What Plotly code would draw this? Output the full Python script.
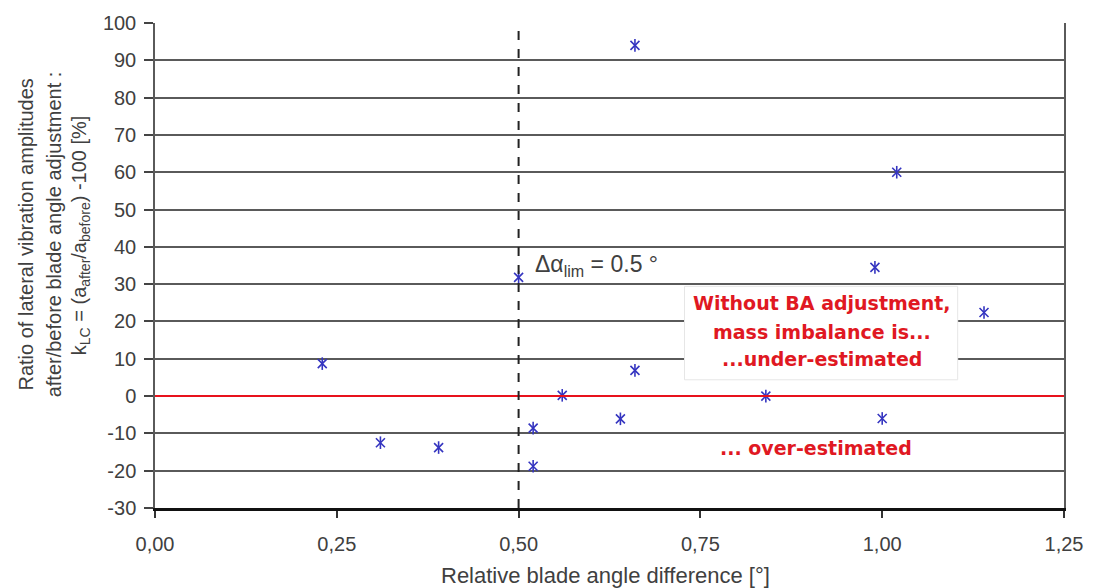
import plotly.graph_objects as go

# Data
blade_angle_diff = [0.23, 0.31, 0.39, 0.50, 0.52, 0.52, 0.56, 0.64, 0.66, 0.66, 0.84, 0.99, 1.00, 1.02, 1.14]
k_lc = [8.7, -12.5, -13.8, 31.8, -8.6, -18.8, 0.2, -6.1, 6.9, 94.0, 0.0, 34.5, -6.0, 60.0, 22.4]

x_ticks = [0, 0.25, 0.5, 0.75, 1.0, 1.25]
x_tick_text = ["0,00", "0,25", "0,50", "0,75", "1,00", "1,25"]
y_ticks = list(range(-30, 101, 10))
y_tick_text = [str(v) for v in y_ticks]
limit_angle = 0.5

W, H = 1095, 588
L, R, T, B = 155, 25, 20, 80
PW, PH = W - L - R, H - T - B

def px(xp):
    return (xp - L) / PW

def py(yp):
    return (H - B - yp) / PH

marker_color = "#3535c0"
text_red = "#e01822"
grey_text = "#404040"
base_font = "Liberation Sans, Arial, sans-serif"
tick_font = dict(family=base_font, size=20, color=grey_text)

fig = go.Figure()
for sym in ["x-thin-open", "line-ns-open"]:
    fig.add_trace(go.Scatter(
        x=blade_angle_diff, y=k_lc, mode="markers",
        marker=dict(symbol=sym, size=9, color=marker_color,
                    line=dict(color=marker_color, width=1.6)),
        showlegend=False, hoverinfo="x+y",
    ))

shapes = [
    # white label box
    dict(type="rect", xref="paper", yref="paper",
         x0=px(688), x1=px(963), y0=py(379), y1=py(285),
         fillcolor="white", line=dict(color="#e6e6e6", width=1), layer="above"),
    # zero line
    dict(type="line", xref="paper", yref="y", x0=0, x1=1, y0=0, y1=0,
         line=dict(color="#e8121c", width=2), layer="above"),
    # limit line
    dict(type="line", xref="x", yref="paper", x0=limit_angle, x1=limit_angle, y0=0, y1=1,
         line=dict(color="#222222", width=2, dash="dash"), layer="above"),
]

ann_font_red = dict(family="DejaVu Sans, Verdana, sans-serif", size=19, color=text_red)
annotations = [
    dict(text="<b>Without BA adjustment,</b>", x=px(826), y=py(302)),
    dict(text="<b>mass imbalance is...</b>", x=px(826), y=py(331)),
    dict(text="<b>...under-estimated</b>", x=px(826), y=py(358)),
    dict(text="<b>... over-estimated</b>", x=px(820), y=py(448)),
]
annotations = [dict(a, xref="paper", yref="paper", showarrow=False, font=ann_font_red,
                    xanchor="center", yanchor="middle") for a in annotations]

annotations.append(dict(
    text="Δα<sub>lim</sub> = 0.5 °", xref="paper", yref="paper", x=px(535), y=py(264),
    xanchor="left", yanchor="middle", showarrow=False,
    font=dict(family=base_font, size=23, color=grey_text)))

title_lines = [
    ("Ratio of lateral vibration amplitudes", 25),
    ("after/before blade angle adjustment :", 53),
    ("k<sub>LC</sub> = (a<sub>after</sub>/a<sub>before</sub>) -100 [%]", 80),
]
for txt, xc in title_lines:
    annotations.append(dict(
        text=txt, xref="paper", yref="paper", x=px(xc), y=py(233),
        xanchor="center", yanchor="middle", textangle=-90, showarrow=False,
        font=dict(family=base_font, size=20, color=grey_text)))

annotations.append(dict(
    text="Relative blade angle difference [°]", xref="paper", yref="paper",
    x=px(608), y=py(576), xanchor="center", yanchor="middle", showarrow=False,
    font=dict(family=base_font, size=22, color=grey_text)))

fig.update_layout(
    width=W, height=H,
    margin=dict(l=L, r=R, t=T, b=B, pad=0),
    paper_bgcolor="white", plot_bgcolor="white",
    shapes=shapes, annotations=annotations,
    xaxis=dict(range=[0, 1.25], tickvals=x_ticks, ticktext=x_tick_text,
               showgrid=False, zeroline=False,
               showline=True, linecolor="#111111", linewidth=2.5,
               ticks="outside", ticklen=7, tickwidth=1.5, tickcolor="#333333",
               tickfont=tick_font, ticklabelstandoff=9),
    yaxis=dict(range=[-30, 100], tickvals=y_ticks, ticktext=y_tick_text,
               showgrid=True, gridcolor="#5a5a5a", gridwidth=1.5,
               zeroline=False,
               showline=True, linecolor="#5a5a5a", linewidth=1.5, mirror=True,
               ticks="outside", ticklen=9, tickwidth=1.5, tickcolor="#444444",
               tickfont=tick_font, ticklabelstandoff=4),
)

fig.write_html("out.html")
